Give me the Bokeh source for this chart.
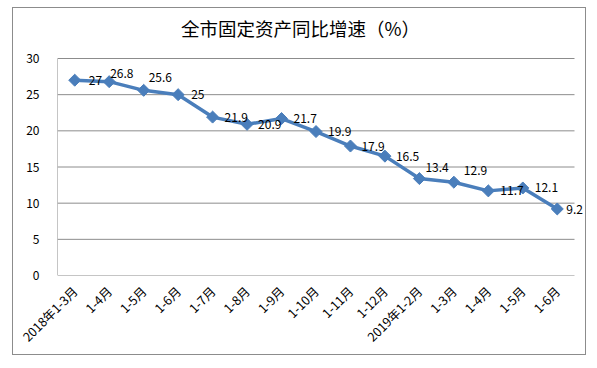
import math
from bokeh.plotting import figure
from bokeh.models import ColumnDataSource, FixedTicker, Range1d, LabelSet, Label
from bokeh.core.properties import value
from bokeh.embed import file_html
from bokeh.resources import INLINE

title_text = "全市固定资产同比增速（%）"
categories = ["2018年1-3月", "1-4月", "1-5月", "1-6月", "1-7月", "1-8月", "1-9月",
              "1-10月", "1-11月", "1-12月", "2019年1-2月", "1-3月", "1-4月", "1-5月", "1-6月"]
growth = [27, 26.8, 25.6, 25, 21.9, 20.9, 21.7, 19.9, 17.9, 16.5, 13.4, 12.9, 11.7, 12.1, 9.2]
y_ticks = [0, 5, 10, 15, 20, 25, 30]

# label placement (pixels), style only
label_dx = [14, 1, 5, 13, 12, 11, 12, 12, 11, 11, 6, 10, 12, 12, 9]
label_dy = [0, 8, 13, 0, 0, 0, 0, 0, 0, 0, 11, 12, 0, 0, -1]

xs = list(range(len(categories)))
src = ColumnDataSource(dict(x=xs, y=growth, lab=[f"{v:g}" for v in growth],
                            dx=label_dx, dy=label_dy))

FONT = "Noto Sans CJK SC"
GRID = "#8c8c8c"
BLUE = "#4a7ebb"

W, H = 574, 348
ML, MR, MT, MB = 44, 0, 0, 81
plot_w, plot_h = 517, 217  # pixel size of the value area (categories x 0..30)
frame_w, frame_h = W - ML - MR, H - MT - MB
n = len(categories)
y_max = y_ticks[-1]
x_end = -0.5 + n * frame_w / plot_w
y_end = y_max * frame_h / plot_h

p = figure(width=W, height=H, output_backend="svg", toolbar_location=None,
           x_range=Range1d(-0.5, x_end), y_range=Range1d(0, y_end),
           min_border_left=ML, min_border_right=MR, min_border_top=MT, min_border_bottom=MB)
p.margin = (7, 0, 0, 12)
p.styles = {"border": "1px solid #8c8c8c"}
p.outline_line_color = None
p.background_fill_color = "white"
p.border_fill_color = "white"

p.xgrid.grid_line_color = None
p.ygrid.grid_line_color = None

# horizontal gridlines limited to the category band, and the value-axis line
p.segment(x0=[-0.5] * len(y_ticks), x1=[n - 0.5] * len(y_ticks), y0=y_ticks, y1=y_ticks,
          line_color=GRID, line_width=1)
p.segment(x0=[-0.5], x1=[-0.5], y0=[0], y1=[y_max], line_color=GRID, line_width=1)

p.yaxis.ticker = FixedTicker(ticks=y_ticks)
p.yaxis.axis_line_color = None
p.yaxis.major_tick_line_color = None
p.yaxis.minor_tick_line_color = None
p.yaxis.major_label_standoff = 12
p.yaxis.major_label_text_font = FONT
p.yaxis.major_label_text_font_size = "12px"
p.yaxis.major_label_text_color = "#000000"

p.xaxis.ticker = FixedTicker(ticks=xs)
p.xaxis.major_label_overrides = {i: c for i, c in enumerate(categories)}
p.xaxis.axis_line_color = None
p.xaxis.major_tick_line_color = None
p.xaxis.minor_tick_line_color = None
p.xaxis.major_label_orientation = math.pi / 4
p.xaxis.major_label_standoff = 7
p.xaxis.major_label_text_font = FONT
p.xaxis.major_label_text_font_size = "12.5px"
p.xaxis.major_label_text_color = "#000000"

p.line("x", "y", source=src, line_color=BLUE, line_width=3.5)
p.scatter("x", "y", source=src, marker="square", angle=math.pi / 4, size=8.5,
          fill_color=BLUE, line_color=BLUE)
p.add_layout(LabelSet(x="x", y="y", text="lab", source=src, x_offset="dx", y_offset="dy",
                      text_font=value(FONT), text_font_size="12px", text_color="#000000",
                      text_align="left", text_baseline="middle"))

p.add_layout(Label(x=243, y=248, x_units="screen", y_units="screen",
                   text=title_text, text_font=FONT, text_font_size="18.5px",
                   text_color="#000000", text_align="center", text_baseline="middle"))

open("out.html", "w").write(file_html(p, INLINE))
